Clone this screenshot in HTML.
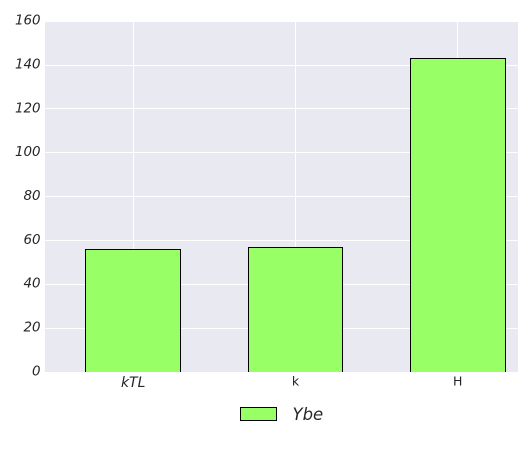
<!DOCTYPE html>
<html>
<head>
<meta charset="utf-8">
<style>
html,body{margin:0;padding:0;background:#fff;width:532px;height:456px;overflow:hidden}
svg{display:block}
text{font-family:"DejaVu Sans","Liberation Sans",sans-serif;fill:#262626}
</style>
</head>
<body>
<svg id="chart" width="532" height="456" viewBox="0 0 532 456" xmlns="http://www.w3.org/2000/svg">
<defs><clipPath id="plot-clip"><rect x="45" y="22" width="473" height="350"/></clipPath></defs>
<rect x="45" y="22" width="473" height="350" fill="#e9e9f2"/>
<g id="grid"></g>
<g id="bars" clip-path="url(#plot-clip)"></g>
<g id="yticks"></g>
<g id="xticks"></g>
<g>
<rect x="240.5" y="407.5" width="36" height="13" fill="#99ff66" stroke="#000" stroke-width="1"/>
<text x="292.5" y="420" font-size="16.5" font-style="italic">Ybe</text>
</g>
</svg>
<script>
const categories = ["kTL", "k", "H"];
const seriesValues = [56, 57, 143];
const yTickLabels = [0, 20, 40, 60, 80, 100, 120, 140, 160];

const NS = "http://www.w3.org/2000/svg";
const plotLeft = 45, plotRight = 518, plotTop = 22, plotBottom = 372;
const pxPerUnit = 2.192, firstCenter = 133.2, categoryStep = 162.25, barWidth = 94.8;
const yScale = v => plotBottom - v * pxPerUnit;
const xScale = i => firstCenter + i * categoryStep;
const crisp = p => Math.floor(p) + 0.5;
const grid = document.getElementById("grid");
const bars = document.getElementById("bars");
const yticks = document.getElementById("yticks");
const xticks = document.getElementById("xticks");

function make(tag, attrs) {
  const el = document.createElementNS(NS, tag);
  for (const k in attrs) el.setAttribute(k, attrs[k]);
  return el;
}

yTickLabels.forEach(v => {
  const y = yScale(v);
  if (v > 0 && y > plotTop) {
    const line = make("line", {x1: plotLeft, x2: plotRight, y1: crisp(y), y2: crisp(y), stroke: "#fff", "stroke-width": 1});
    
    
    grid.appendChild(line);
  }
  const label = make("text", {x: 40.5, y: y + 3.3, "text-anchor": "end", "font-size": 13.4, "font-style": "italic"});
  label.textContent = v;
  
  
  yticks.appendChild(label);
});

categories.forEach((c, i) => {
  const x = xScale(i);
  const gx = crisp(x);
  const line = make("line", {x1: gx, x2: gx, y1: plotTop, y2: plotBottom, stroke: "#fff", "stroke-width": 1});
  
  
  grid.appendChild(line);

  const top = crisp(yScale(seriesValues[i]));
  const left = crisp(x - barWidth / 2);
  const right = crisp(x + barWidth / 2);
  const bar = make("rect", {x: left, y: top, width: right - left, height: plotBottom + 3 - top, fill: "#99ff66", stroke: "#000", "stroke-width": 1});
  
  
  bars.appendChild(bar);

  const italic = i === 0;
  const label = make("text", {x: x, y: italic ? 387 : 385.5, "text-anchor": "middle", "font-size": italic ? 14 : 12.5, "font-style": italic ? "italic" : "normal"});
  label.textContent = c;
  
  
  xticks.appendChild(label);
});
</script>
</body>
</html>
